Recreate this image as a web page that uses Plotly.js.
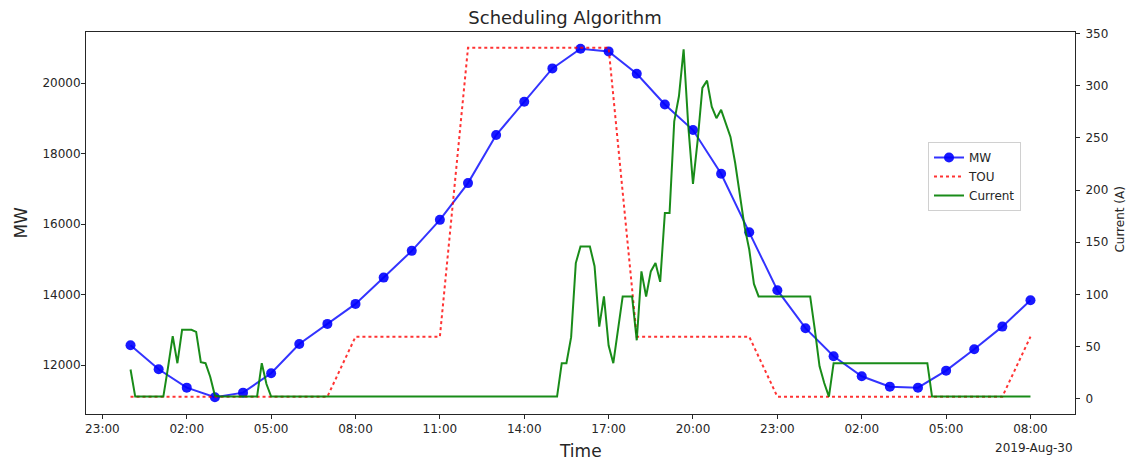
<!DOCTYPE html>
<html>
<head>
<meta charset="utf-8">
<script src="https://cdn.plot.ly/plotly-3.0.1.min.js"></script>
<style>
  html, body { margin: 0; padding: 0; background: #ffffff; }
  #chart { width: 1130px; height: 463px; }
</style>
</head>
<body>
<div id="chart"></div>
<script>
// Hourly load (MW) from 2019-08-29 00:00 to 2019-08-30 08:00
const mwValues = [
  12567, 11887, 11365, 11092, 11223, 11773, 12604, 13172, 13739, 14485,
  15243, 16122, 17163, 18525, 19470, 20415, 20973, 20897, 20264, 19393,
  18667, 17427, 15768, 14128, 13050, 12255, 11688, 11393, 11365, 11847,
  12454, 13095, 13844
];

// Time-of-use tariff level, same hourly index, drawn on the MW scale
const touValues = [
  11110, 11110, 11110, 11110, 11110, 11110, 11110, 11110, 12810, 12810,
  12810, 12810, 21000, 21000, 21000, 21000, 21000, 21000, 12810, 12810,
  12810, 12810, 12810, 11110, 11110, 11110, 11110, 11110, 11110, 11110,
  11110, 11110, 12810
];

// Charging current (A), one sample every 10 minutes over the same span
const currentValues = [
  28, 2, 2, 2, 2, 2, 2, 2, 30, 60,
  34, 66, 66, 66, 64, 35, 34, 21, 3, 2,
  2, 2, 2, 2, 2, 2, 2, 2, 34, 14,
  2, 2, 2, 2, 2, 2, 2, 2, 2, 2,
  2, 2, 2, 2, 2, 2, 2, 2, 2, 2,
  2, 2, 2, 2, 2, 2, 2, 2, 2, 2,
  2, 2, 2, 2, 2, 2, 2, 2, 2, 2,
  2, 2, 2, 2, 2, 2, 2, 2, 2, 2,
  2, 2, 2, 2, 2, 2, 2, 2, 2, 2,
  2, 2, 34, 34, 59, 130, 146, 146, 146, 127,
  69, 98, 51, 34, 66, 98, 98, 98, 56, 122,
  98, 122, 130, 112, 178, 178, 266, 290, 335, 261,
  206, 248, 298, 305, 280, 269, 277, 263, 251, 226,
  194, 165, 143, 110, 98, 98, 98, 98, 98, 98,
  98, 98, 98, 98, 98, 98, 66, 31, 15, 2,
  34, 34, 34, 34, 34, 34, 34, 34, 34, 34,
  34, 34, 34, 34, 34, 34, 34, 34, 34, 34,
  34, 2, 2, 2, 2, 2, 2, 2, 2, 2,
  2, 2, 2, 2, 2, 2, 2, 2, 2, 2,
  2, 2, 2
];

const tickTimes = [
  '2019-08-28 23:00', '2019-08-29 02:00', '2019-08-29 05:00', '2019-08-29 08:00',
  '2019-08-29 11:00', '2019-08-29 14:00', '2019-08-29 17:00', '2019-08-29 20:00',
  '2019-08-29 23:00', '2019-08-30 02:00', '2019-08-30 05:00', '2019-08-30 08:00'
];
const tickLabels = [
  '23:00', '02:00', '05:00', '08:00', '11:00', '14:00',
  '17:00', '20:00', '23:00', '02:00', '05:00', '08:00'
];
const mwTicks = [12000, 14000, 16000, 18000, 20000];
const currentTicks = [0, 50, 100, 150, 200, 250, 300, 350];

// Timestamp helper: minutes after the series start -> 'YYYY-MM-DD HH:MM'
const START_MS = Date.UTC(2019, 7, 29, 0, 0);
function stamp(minutes) {
  const d = new Date(START_MS + minutes * 60000);
  const p = n => String(n).padStart(2, '0');
  return d.getUTCFullYear() + '-' + p(d.getUTCMonth() + 1) + '-' + p(d.getUTCDate()) +
         ' ' + p(d.getUTCHours()) + ':' + p(d.getUTCMinutes());
}
const hourly = mwValues.map((_, i) => stamp(i * 60));
const tenMin = currentValues.map((_, i) => stamp(i * 10));

const FONT = 'DejaVu Sans, Liberation Sans, sans-serif';
const INK = '#262626';

const traces = [
  {
    name: 'MW', x: hourly, y: mwValues, type: 'scatter', mode: 'lines+markers',
    line: { color: 'rgba(0,0,255,0.8)', width: 2 },
    marker: { color: 'rgba(0,0,255,0.9)', size: 10 },
    xaxis: 'x', yaxis: 'y'
  },
  {
    name: 'TOU', x: hourly, y: touValues, type: 'scatter', mode: 'lines',
    line: { color: 'rgba(255,0,0,0.8)', width: 2, dash: 'dot' },
    xaxis: 'x', yaxis: 'y'
  },
  {
    name: 'Current', x: tenMin, y: currentValues, type: 'scatter', mode: 'lines',
    line: { color: 'rgba(0,128,0,0.9)', width: 2 },
    xaxis: 'x', yaxis: 'y2'
  }
];

const axisCommon = {
  showgrid: false, zeroline: false,
  showline: true, linecolor: INK, linewidth: 1,
  ticks: 'outside', ticklen: 4, tickwidth: 1, tickcolor: INK,
  tickfont: { family: FONT, size: 12, color: INK }
};

const layout = {
  width: 1130, height: 463,
  margin: { l: 86, r: 55, t: 32, b: 49, pad: 0 },
  paper_bgcolor: '#ffffff', plot_bgcolor: '#ffffff',
  font: { family: FONT, color: INK },
  showlegend: true,
  title: {
    text: 'Scheduling Algorithm',
    font: { family: FONT, size: 18, color: INK },
    x: 565 / 1130, xanchor: 'center', xref: 'container',
    y: 1 - 18 / 463, yanchor: 'middle', yref: 'container'
  },
  xaxis: Object.assign({}, axisCommon, {
    type: 'date',
    range: ['2019-08-28 22:25', '2019-08-30 09:35'],
    tickmode: 'array', tickvals: tickTimes, ticktext: tickLabels,
    mirror: true
  }),
  yaxis: Object.assign({}, axisCommon, {
    range: [10618, 21447],
    tickmode: 'array', tickvals: mwTicks, ticktext: mwTicks.map(String),
    ticklabelstandoff: -2
  }),
  yaxis2: Object.assign({}, axisCommon, {
    overlaying: 'y', side: 'right', anchor: 'x',
    range: [-14.7, 351.6],
    tickmode: 'array', tickvals: currentTicks, ticktext: currentTicks.map(String),
    tickfont: { family: FONT, size: 12, color: INK },
    ticklabelstandoff: 3
  }),
  legend: {
    x: (928 - 86) / 989, y: (414 - 142) / 382, xanchor: 'left', yanchor: 'top',
    bgcolor: 'rgba(255,255,255,0.85)', bordercolor: '#d0d0d0', borderwidth: 1,
    font: { family: FONT, size: 12, color: INK },
    itemwidth: 30, tracegroupgap: 0
  },
  annotations: [
    { text: 'Time', xref: 'paper', yref: 'paper', x: 0.5, y: (414 - 451) / 382,
      xanchor: 'center', yanchor: 'middle', showarrow: false,
      font: { family: FONT, size: 17, color: INK } },
    { text: 'MW', xref: 'paper', yref: 'paper', x: -0.054, y: 0.5,
      xanchor: 'right', yanchor: 'middle', showarrow: false, textangle: -90,
      font: { family: FONT, size: 17, color: INK } },
    { text: 'Current (A)', xref: 'paper', yref: 'paper', x: 1.036, y: (414 - 220) / 382,
      xanchor: 'left', yanchor: 'middle', showarrow: false, textangle: -90,
      font: { family: FONT, size: 12, color: INK } },
    { text: '2019-Aug-30', xref: 'paper', yref: 'paper', x: 1.0, y: (414 - 448) / 382,
      xanchor: 'right', yanchor: 'middle', showarrow: false,
      font: { family: FONT, size: 12, color: INK } }
  ]
};

Plotly.newPlot('chart', traces, layout, { displayModeBar: false, responsive: false });
</script>
</body>
</html>
